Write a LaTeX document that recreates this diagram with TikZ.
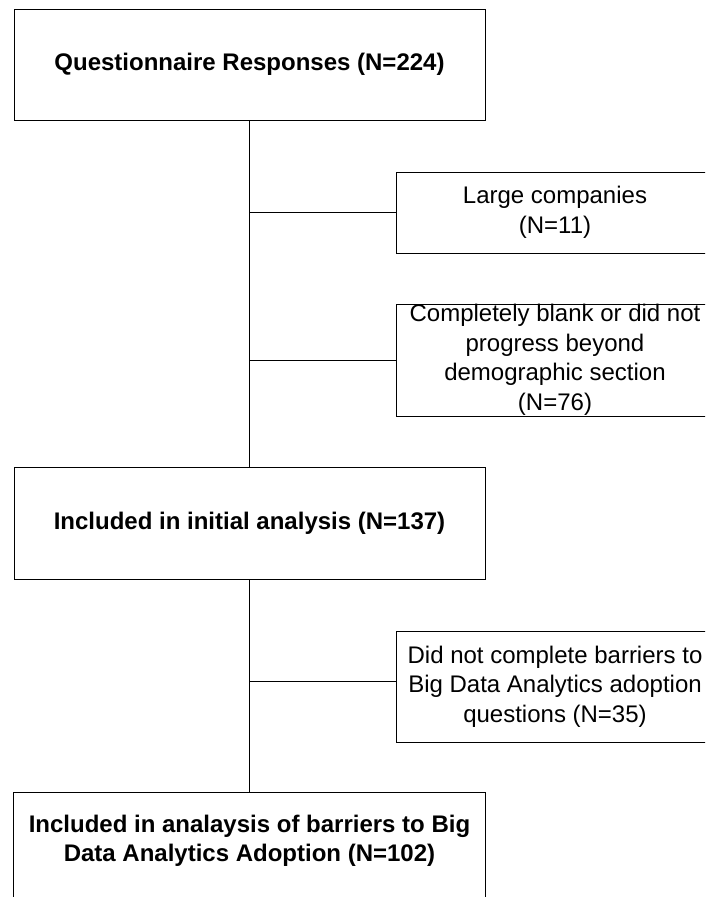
\documentclass[tikz,border=0pt]{standalone}
\usepackage{fontspec}
\setmainfont{Liberation Sans}

\begin{document}
\begin{tikzpicture}[x=1pt,y=-1pt,
   mainbox/.style={draw,line width=1pt,minimum width=471pt,minimum height=111pt,
     inner sep=0pt,align=center,font=\fontsize{24}{29}\selectfont\bfseries},
   sidebox/.style={draw,line width=1pt,minimum width=318pt,minimum height=81pt,
     inner sep=0pt,align=center,font=\fontsize{24}{29.5}\selectfont}]
   \clip (0,0) rectangle (705,897);
   % main column
   \node[mainbox] (resp) at (249.5,64.5) {Questionnaire Responses (N=224)};
   \node[mainbox,minimum height=112pt] (init) at (249.5,523) {Included in initial analysis (N=137)};
   \node[mainbox,draw=none,minimum height=96pt] (incl) at (249.5,841)
     {Included in analaysis of barriers to Big\\Data Analytics Adoption (N=102)};
   \draw[line width=1pt] ([yshift=-40pt]incl.south west) -- (incl.north west)
     -- (incl.north east) -- ([yshift=-40pt]incl.south east);
   % exclusions
   \node[sidebox] (large) at (555,212.5) {Large companies\\(N=11)};
   \node[sidebox,minimum height=112pt] (blank) at (555,360)
     {Completely blank or did not\\progress beyond\\demographic section\\(N=76)};
   \node[sidebox,minimum height=111pt] (barr) at (555,686.5)
     {Did not complete barriers to\\Big Data Analytics adoption\\questions (N=35)};
   % connectors
   \draw[line width=1pt] (resp) -- (init);
   \draw[line width=1pt] (init) -- (incl);
   \draw[line width=1pt] (large.west) -- (large.west -| resp.south);
   \draw[line width=1pt] (blank.west) -- (blank.west -| resp.south);
   \draw[line width=1pt] ([yshift=5pt]barr.west) -- ([yshift=5pt]barr.west -| init.south);
\end{tikzpicture}
\end{document}
